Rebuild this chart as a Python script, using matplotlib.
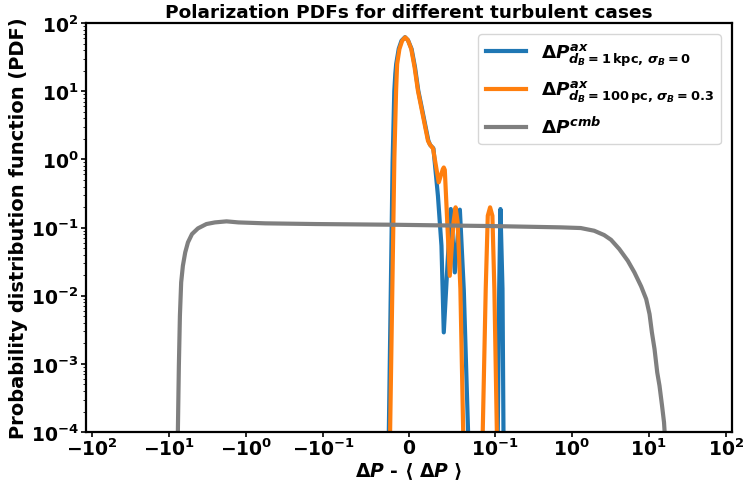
import matplotlib
matplotlib.use("Agg")
import matplotlib.pyplot as plt

plt.rcParams['font.family'] = ['DejaVu Sans']
plt.rcParams['font.weight'] = 'bold'
plt.rcParams['axes.labelweight'] = 'bold'
plt.rcParams['axes.titleweight'] = 'bold'
plt.rcParams['mathtext.fontset'] = 'custom'
plt.rcParams['mathtext.rm'] = 'DejaVu Sans:bold'
plt.rcParams['mathtext.it'] = 'DejaVu Sans:italic:bold'
plt.rcParams['mathtext.bf'] = 'DejaVu Sans:bold'
plt.rcParams['mathtext.sf'] = 'DejaVu Sans:bold'

# --- data ---
blue_x = [-0.030, -0.0236, -0.0192, -0.0172, -0.0160, -0.0150, -0.0120, -0.0088, -0.0047,
          -0.0012, 0.0030, 0.0070, 0.0108, 0.0148, 0.0187, 0.0226, 0.0248, 0.0285,
          0.0338, 0.0379, 0.0406, 0.0450, 0.0488, 0.0535, 0.0594, 0.0640, 0.069, 0.072,
          0.107, 0.1098, 0.1146, 0.119, 0.1265, 0.1303, 0.133]
blue_y = [1e-8, 1e-4, 0.9, 10.0, 18.0, 25.0, 42.0, 55.0, 62.0,
          56.0, 41.6, 22.4, 10.2, 5.8, 3.3, 1.88, 1.62, 1.45,
          0.29, 0.054, 0.0029, 0.03, 0.187, 0.022, 0.183, 0.012, 1e-4, 1e-8,
          1e-8, 1e-4, 0.0126, 0.187, 0.0126, 1e-4, 1e-8]

orange_x = [-0.028, -0.0221, -0.0171, -0.0151, -0.0139, -0.0112, -0.0080, -0.0045, -0.0014,
            0.0026, 0.0065, 0.0104, 0.0143, 0.0182, 0.0221, 0.0241, 0.0280, 0.0347,
            0.0395, 0.0406, 0.0418, 0.0476, 0.0520, 0.0544, 0.0568, 0.0600, 0.0633, 0.066,
            0.082, 0.0861, 0.0896, 0.0920, 0.0947, 0.0974, 0.0997, 0.1069, 0.110]
orange_y = [1e-8, 1e-4, 1.07, 10.2, 25.0, 41.6, 55.0, 61.7, 56.3,
            41.6, 22.4, 10.2, 5.8, 3.3, 1.88, 1.67, 1.45, 0.46,
            0.72, 0.76, 0.70, 0.0196, 0.12, 0.198, 0.12, 0.0126, 1e-4, 1e-8,
            1e-8, 1e-4, 0.0126, 0.149, 0.198, 0.149, 0.0126, 1e-4, 1e-8]

gray_x = [-7.95, -7.74, -7.52, -7.29, -7.02, -6.67, -6.22, -5.73, -5.08, -4.25, -3.30,
          -2.56, -1.81, -1.27, -0.570, -0.126, -0.0191, 0.1, 0.718, 1.31, 1.96, 2.64,
          3.24, 4.15, 5.35, 6.52, 7.98, 9.27, 10.25, 11.0, 11.9, 12.9, 13.8, 14.9, 15.8,
          16.1, 16.5]
gray_y = [1e-8, 1.1e-4, 0.00094, 0.00508, 0.0157, 0.0275, 0.0432, 0.0607, 0.0803, 0.0973,
          0.1126, 0.119, 0.1233, 0.119, 0.1153, 0.1126, 0.110, 0.105, 0.1007, 0.0984,
          0.0898, 0.0776, 0.0662, 0.0484, 0.0326, 0.0220, 0.0137, 0.00894, 0.00538,
          0.0029, 0.00165, 0.00075, 0.00048, 0.000243, 0.000139, 1e-4, 1e-8]

x_ticks = [-100, -10, -1, -0.1, 0, 0.1, 1, 10, 100]
y_ticks = [1e-4, 1e-3, 1e-2, 1e-1, 1e0, 1e1, 1e2]

labels = [r'$\Delta P^{ax}_{d_B = 1\,\mathrm{kpc},\,\sigma_B = 0}$',
          r'$\Delta P^{ax}_{d_B = 100\,\mathrm{pc},\,\sigma_B = 0.3}$',
          r'$\Delta P^{cmb}$']

fig = plt.figure(figsize=(7.43, 4.85), dpi=100)
ax = fig.add_axes([0.116, 0.107, 0.869, 0.8435])

ax.plot(blue_x, blue_y, color='#1f77b4', lw=3, label=labels[0])
ax.plot(orange_x, orange_y, color='#ff7f0e', lw=3, label=labels[1])
ax.plot(gray_x, gray_y, color='#7f7f7f', lw=3, label=labels[2])

ax.set_xscale('symlog', linthresh=0.1, linscale=1)
ax.set_yscale('log')
ax.set_xticks(x_ticks)
ax.set_yticks(y_ticks)
ax.set_xlim(-120, 120)
ax.set_ylim(1e-4, 1e2)

for s in ax.spines.values():
    s.set_linewidth(1.6)

ax.tick_params(axis='both', labelsize=13.5, width=1.2)
ax.tick_params(axis='x', pad=0.5)
ax.tick_params(axis='y', pad=2)
ax.set_title('Polarization PDFs for different turbulent cases', fontsize=13.3, pad=4)
ax.set_xlabel(r'$\Delta P$ - $\langle$ $\Delta P$ $\rangle$', fontsize=13.5, labelpad=1)
ax.set_ylabel('Probability distribution function (PDF)', fontsize=14, labelpad=2)
ax.legend(loc='upper right', fontsize=13.2, borderaxespad=0.6, handlelength=2.2,
          labelspacing=0.6)

fig.savefig('out.png', dpi=100)
